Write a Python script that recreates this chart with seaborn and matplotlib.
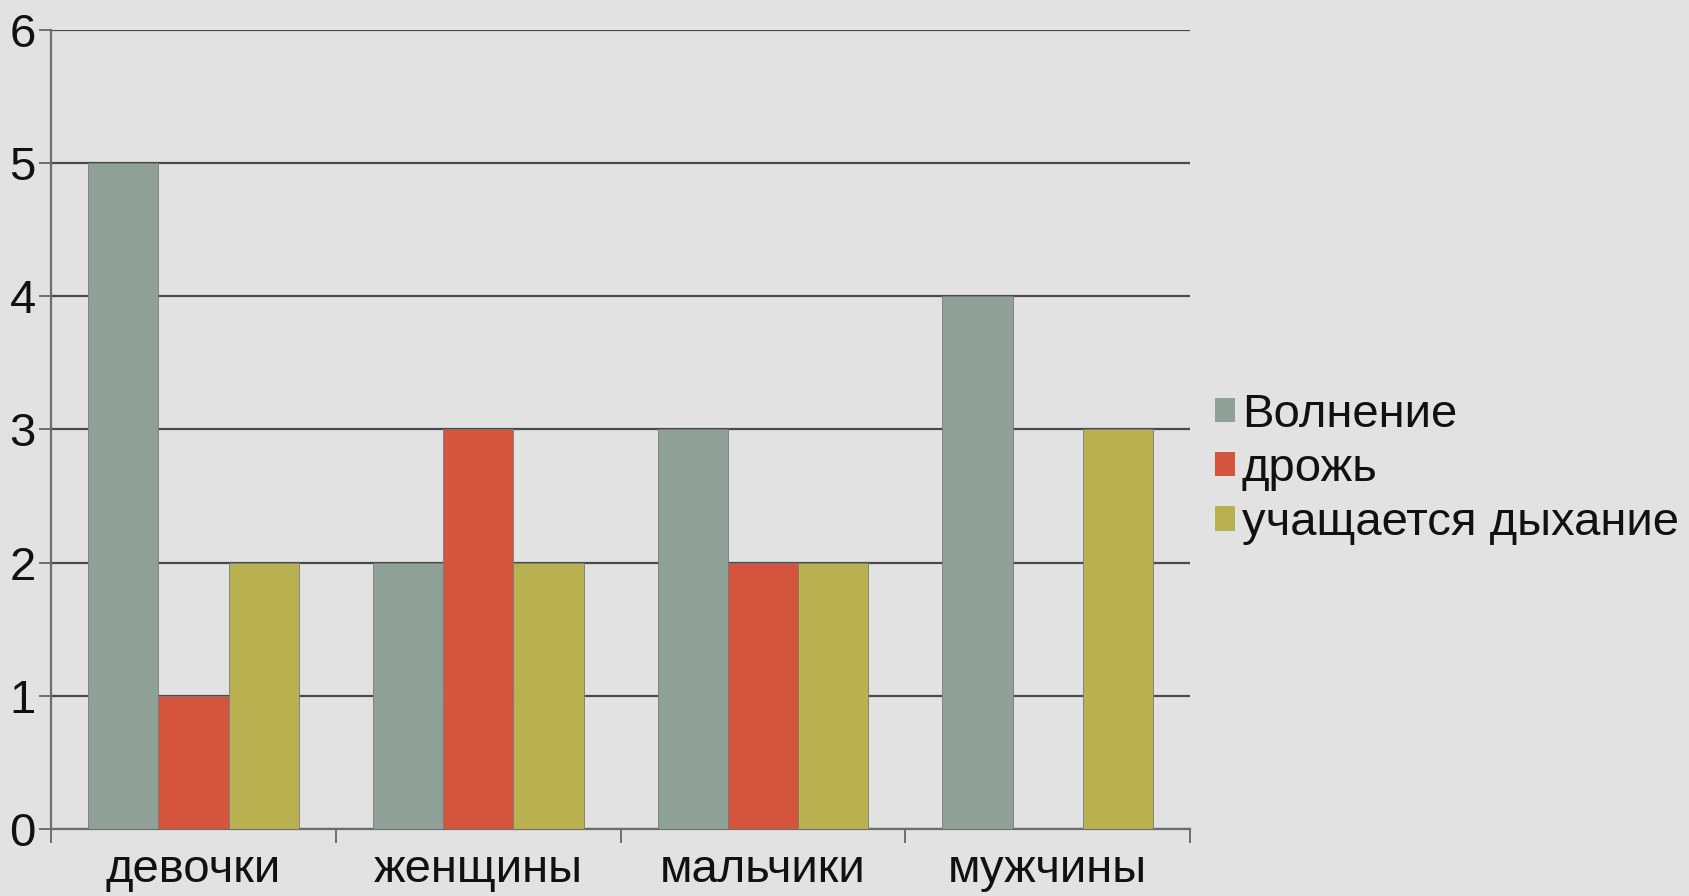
import pandas as pd
import matplotlib
matplotlib.use("Agg")
import matplotlib.pyplot as plt
import seaborn as sns

# Данные диаграммы
groups = ["девочки", "женщины", "мальчики", "мужчины"]
series = ["Волнение", "дрожь", "учащается дыхание"]
volnenie = [5, 2, 3, 4]
drozh = [1, 3, 2, 0]
dyhanie = [2, 2, 2, 3]
colors = ["#8fa196", "#d4553b", "#b9b14f"]

df = pd.DataFrame({
    "группа": groups * 3,
    "признак": [series[0]] * 4 + [series[1]] * 4 + [series[2]] * 4,
    "значение": volnenie + drozh + dyhanie,
})

sns.set_theme(style="white")
plt.rcParams["font.family"] = ["Liberation Sans", "DejaVu Sans"]
bg = "#e2e2e2"
fs = 34

fig = plt.figure(figsize=(16.9, 8.96), dpi=100, facecolor=bg)
ax = fig.add_axes([0.0302, 0.0748, 0.6740, 0.8917])
ax.set_facecolor(bg)

sns.barplot(data=df, x="группа", y="значение", hue="признак", order=groups,
            hue_order=series, palette=colors, width=0.74, saturation=1,
            edgecolor="#7a7a7a", linewidth=0.6, ax=ax, zorder=3)

ax.set_ylim(0, 6)
ax.set_xlim(-0.5, len(groups) - 0.5)
ax.set_yticks(range(0, 7))
ax.yaxis.grid(True, color="#4a4a4a", linewidth=1.6, zorder=0)
ax.set_axisbelow(True)
ax.set_xlabel("")
ax.set_ylabel("")

for s in ["top", "right"]:
    ax.spines[s].set_visible(False)
for s in ["left", "bottom"]:
    ax.spines[s].set_color("#6e6e6e")
    ax.spines[s].set_linewidth(1.6)

ax.tick_params(axis="y", which="major", length=9, width=1.4, color="#6e6e6e",
               labelsize=fs, labelcolor="#111111", pad=2, left=True)
ax.tick_params(axis="x", which="major", length=0, labelsize=fs,
               labelcolor="#111111", pad=14)
ax.set_xticks([i - 0.5 for i in range(len(groups) + 1)], minor=True)
ax.tick_params(axis="x", which="minor", length=10, width=1.4, color="#6e6e6e",
               bottom=True)

handles, labels = ax.get_legend_handles_labels()
for h in handles:
    h.set_edgecolor("none")
ax.legend(handles, labels, loc="center left",
          bbox_to_anchor=(1215 / 1690, 1 - 469 / 896),
          bbox_transform=fig.transFigure, frameon=False, fontsize=fs,
          handlelength=0.42, handleheight=0.42, handletextpad=0.15,
          labelspacing=0.22, borderpad=0, borderaxespad=0,
          labelcolor="#111111")

fig.savefig("out.png", dpi=100, facecolor=bg)
